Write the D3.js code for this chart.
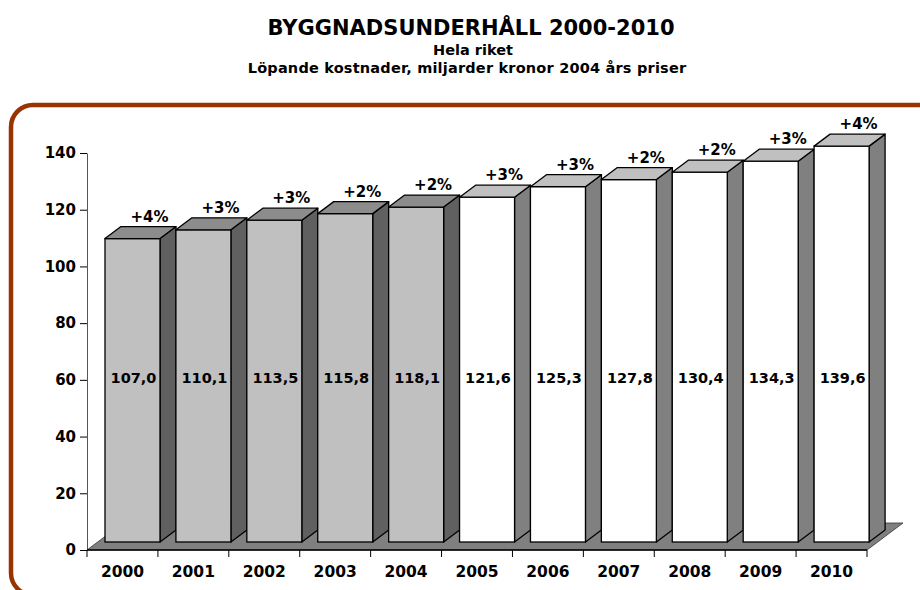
<!DOCTYPE html>
<html><head><meta charset="utf-8">
<script src="https://cdn.jsdelivr.net/npm/d3@7"></script>
<style>
html,body{margin:0;padding:0;background:#fff;}
text{font-family:"DejaVu Sans",Verdana,sans-serif;font-weight:bold;fill:#000;}
</style></head>
<body>
<svg id="chart" width="920" height="590"></svg>
<script>
const years = ["2000","2001","2002","2003","2004","2005","2006","2007","2008","2009","2010"];
const values = [107.0,110.1,113.5,115.8,118.1,121.6,125.3,127.8,130.4,134.3,139.6];
const valueLabels = ["107,0","110,1","113,5","115,8","118,1","121,6","125,3","127,8","130,4","134,3","139,6"];
const changeLabels = ["+4%","+3%","+3%","+2%","+2%","+3%","+3%","+2%","+2%","+3%","+4%"];
const isHistoric = [true,true,true,true,true,false,false,false,false,false,false];
const yTicks = [0,20,40,60,80,100,120,140];
const titleText = "BYGGNADSUNDERHÅLL 2000-2010";
const subtitle1 = "Hela riket";
const subtitle2 = "Löpande kostnader, miljarder kronor 2004 års priser";

const svg = d3.select("#chart");

// Border frame
svg.append("rect").attr("x",11).attr("y",105).attr("width",960).attr("height",490)
  .attr("rx",22).attr("ry",22).attr("fill","none").attr("stroke","#993300").attr("stroke-width",4.5);

// Titles
svg.append("text").attr("x",471).attr("y",35).attr("text-anchor","middle").attr("font-size",21).text(titleText);
svg.append("text").attr("x",473).attr("y",55).attr("text-anchor","middle").attr("font-size",14.5).text(subtitle1);
svg.append("text").attr("x",467).attr("y",73).attr("text-anchor","middle").attr("font-size",14.5)
  .attr("letter-spacing",0.2).text(subtitle2);

const x = d3.scaleBand().domain(years).range([87,867]).paddingInner(0).paddingOuter(0);
const y = d3.scaleLinear().domain([0,140]).range([550,153]);

const floorDX = 36, floorDY = 27;   // depth of floor
const offX = 18, faceW = 55;        // front face offset in band
const barShiftY = 8;                // bars set back from the front plane
const dX = 16, dY = 12;             // bar depth

// Floor
const x0 = x.range()[0], x1 = x.range()[1], y0 = y(0);
svg.append("polygon")
  .attr("points",[[x0,y0],[x1,y0],[x1+floorDX,y0-floorDY],[x0+floorDX,y0-floorDY]].map(p=>p.join(",")).join(" "))
  .attr("fill","#808080").attr("stroke","#333").attr("stroke-width",0.8);

// Y axis line and ticks
const yAxis = d3.axisLeft(y).tickValues(yTicks).tickSize(7).tickSizeOuter(0).tickPadding(4);
const gy = svg.append("g").attr("transform",`translate(${x0},0)`).call(yAxis);
gy.select(".domain").attr("stroke","#555");
gy.selectAll(".tick line").attr("stroke","#000");
gy.selectAll(".tick text").attr("font-size",15).attr("font-family","DejaVu Sans").attr("font-weight","bold").attr("fill","#000");

// Bars
const g = svg.append("g");
years.forEach((yr,i)=>{
  const fx = x(yr)+offX;
  const fb = y(0)-barShiftY;
  const ft = y(values[i])-barShiftY;
  const hist = isHistoric[i];
  const frontC = hist ? "#C0C0C0" : "#FFFFFF";
  const sideC = hist ? "#606060" : "#808080";
  const topC = hist ? "#8C8C8C" : "#C0C0C0";
  g.append("polygon").attr("points",[[fx+faceW,fb],[fx+faceW+dX,fb-dY],[fx+faceW+dX,ft-dY],[fx+faceW,ft]].map(p=>p.join(",")).join(" "))
    .attr("fill",sideC).attr("stroke","#000").attr("stroke-width",1.3).attr("stroke-linejoin","round");
  g.append("rect").attr("x",fx).attr("y",ft).attr("width",faceW).attr("height",fb-ft)
    .attr("fill",frontC).attr("stroke","#000").attr("stroke-width",1.3);
  g.append("polygon").attr("points",[[fx,ft],[fx+faceW,ft],[fx+faceW+dX,ft-dY],[fx+dX,ft-dY]].map(p=>p.join(",")).join(" "))
    .attr("fill",topC).attr("stroke","#000").attr("stroke-width",1.3).attr("stroke-linejoin","round");
  g.append("text").attr("x",fx+faceW/2+1).attr("y",y(60)+3).attr("text-anchor","middle").attr("font-size",14.5).text(valueLabels[i]);
  g.append("text").attr("x",fx+faceW/2+17).attr("y",ft-dY-5).attr("text-anchor","middle").attr("font-size",15).text(changeLabels[i]);
});

// X axis (front floor edge) with boundary ticks
svg.append("line").attr("x1",x0).attr("x2",x1).attr("y1",y0).attr("y2",y0).attr("stroke","#000").attr("stroke-width",1.3);
const bounds = years.map(d=>x(d)).concat([x1]);
svg.selectAll(".xt").data(bounds).enter().append("line")
  .attr("x1",d=>d).attr("x2",d=>d).attr("y1",y0).attr("y2",y0+7).attr("stroke","#000");
svg.selectAll(".xl").data(years).enter().append("text")
  .attr("x",d=>x(d)+x.bandwidth()/2).attr("y",577).attr("text-anchor","middle").attr("font-size",15.5).text(d=>d);
</script>
</body></html>
